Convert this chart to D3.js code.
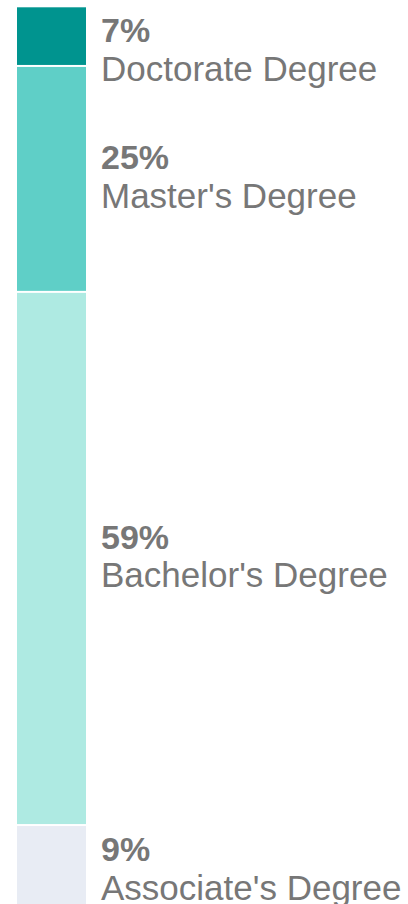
<!DOCTYPE html>
<meta charset="utf-8">
<style>
body { margin: 0; background: #fff; }
svg { display: block; }
.pct { font: bold 34px "Liberation Sans", Arial, sans-serif; fill: #777; }
.name { font: 35px "Liberation Sans", Arial, sans-serif; fill: #777; }
</style>
<body>
<div id="chart"></div>
<script src="https://cdn.jsdelivr.net/npm/d3@7"></script>
<script>
var degrees = ["Doctorate Degree", "Master's Degree", "Bachelor's Degree", "Associate's Degree"];
var shares = [6.6, 25, 59, 9.1];
var shareLabels = ["7%", "25%", "59%", "9%"];
var colors = ["#00948f", "#5fcfc7", "#aeeae2", "#e8ecf4"];

var width = 408, height = 904;

var svg = d3.select("#chart").append("svg")
    .attr("width", width)
    .attr("height", height);

// cumulative start/end of each slice
var acc = 0;
var rows = degrees.map(function(d, i) {
  var r = {name: d, value: shares[i], label: shareLabels[i], color: colors[i], y0: acc, y1: acc + shares[i]};
  acc += shares[i];
  return r;
});

var x = d3.scaleBand().domain(["degree"]).range([17, 86]).padding(0);
var y = d3.scaleLinear().domain([0, 100]).range([7.3, 911]);

var gap = 2;

svg.selectAll("rect.seg")
  .data(rows)
  .enter().append("rect")
    .attr("class", "seg")
    .attr("x", x("degree"))
    .attr("width", x.bandwidth())
    .attr("y", function(d) { return y(d.y0); })
    .attr("height", function(d) { return y(d.y1) - y(d.y0) - gap; })
    .attr("fill", function(d) { return d.color; });

var labelX = x("degree") + x.bandwidth() + 15;

// label block centred on its slice, but kept inside the slice top
function pctBase(d) {
  var mid = (y(d.y0) + y(d.y1)) / 2;
  return Math.max(mid - 10.5, y(d.y0) + 35);
}

var lab = svg.selectAll("g.lab")
  .data(rows)
  .enter().append("g")
    .attr("class", "lab");

lab.append("text")
    .attr("class", "pct")
    .attr("x", labelX)
    .attr("y", pctBase)
    .text(function(d) { return d.label; });

lab.append("text")
    .attr("class", "name")
    .attr("x", labelX)
    .attr("y", function(d) { return pctBase(d) + 38.5; })
    .text(function(d) { return d.name; });
</script>
</body>
